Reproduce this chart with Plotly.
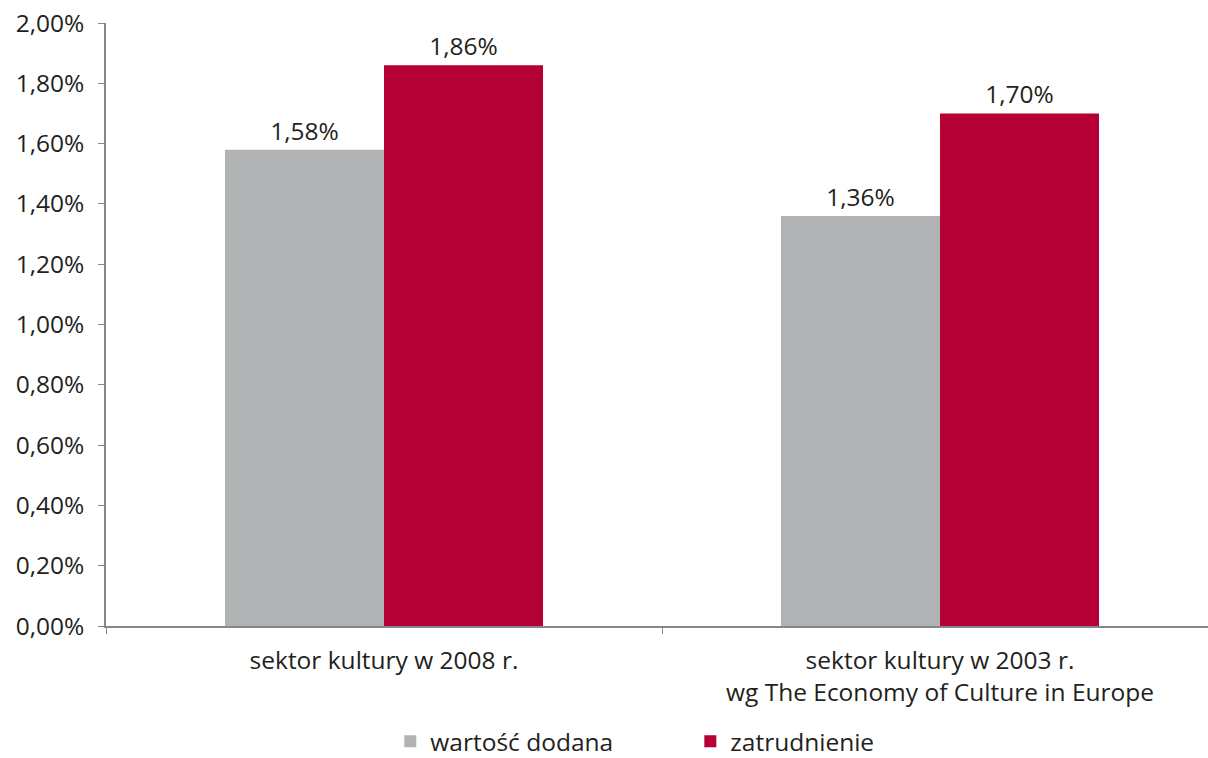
import plotly.graph_objects as go

categories = ["sektor kultury w 2008 r.",
              "sektor kultury w 2003 r.<br>wg The Economy of Culture in Europe"]
wartosc_dodana = [0.0158, 0.0136]
zatrudnienie = [0.0186, 0.0170]
y_ticks = [0.0, 0.002, 0.004, 0.006, 0.008, 0.010, 0.012, 0.014, 0.016, 0.018, 0.020]

FONT = "Open Sans"
GRAY = "#b1b2b4"
RED = "#b40034"
AXIS = "#878787"
TXT = "#231f20"
FS = 24.5

fig = go.Figure()
fig.add_trace(go.Bar(
    name="wartość dodana", x=categories, y=wartosc_dodana, marker_color=GRAY,
    marker_line_width=0,
    texttemplate="%{y:.2%}", textposition="outside",
    textfont=dict(size=FS, color=TXT), cliponaxis=False,
))
fig.add_trace(go.Bar(
    name="zatrudnienie", x=categories, y=zatrudnienie, marker_color=RED,
    marker_line_width=0,
    texttemplate="%{y:.2%}", textposition="outside",
    textfont=dict(size=FS, color=TXT), cliponaxis=False,
))

fig.update_layout(
    width=1208, height=758,
    margin=dict(l=106, r=0, t=23, b=132, autoexpand=False),
    paper_bgcolor="white", plot_bgcolor="white",
    separators=", ",
    barmode="group", bargap=0.428, bargroupgap=0,
    font=dict(family=FONT, size=FS, color=TXT),
    showlegend=True,
    legend=dict(orientation="h", x=0.258, xanchor="left",
                yref="container", y=0.022, yanchor="middle",
                bgcolor="rgba(0,0,0,0)", borderwidth=0,
                font=dict(size=FS), entrywidth=255, itemwidth=30,
                traceorder="normal"),
    xaxis=dict(
        range=[-0.5, 1.482], tickson="boundaries", ticks="outside", ticklen=6,
        tickcolor=AXIS, showline=True, linecolor=AXIS, linewidth=1.5,
        tickfont=dict(size=FS), showgrid=False, automargin=False,
        ticklabelstandoff=12,
    ),
    yaxis=dict(
        range=[0, 0.020], tickvals=y_ticks, tickformat=".2%", ticks="outside",
        ticklen=6, tickcolor=AXIS, showline=True, linecolor=AXIS, linewidth=1.5,
        showgrid=False, zeroline=False, tickfont=dict(size=FS),
        ticklabelstandoff=9, automargin=False,
    ),
)

fig.write_html("out.html")
